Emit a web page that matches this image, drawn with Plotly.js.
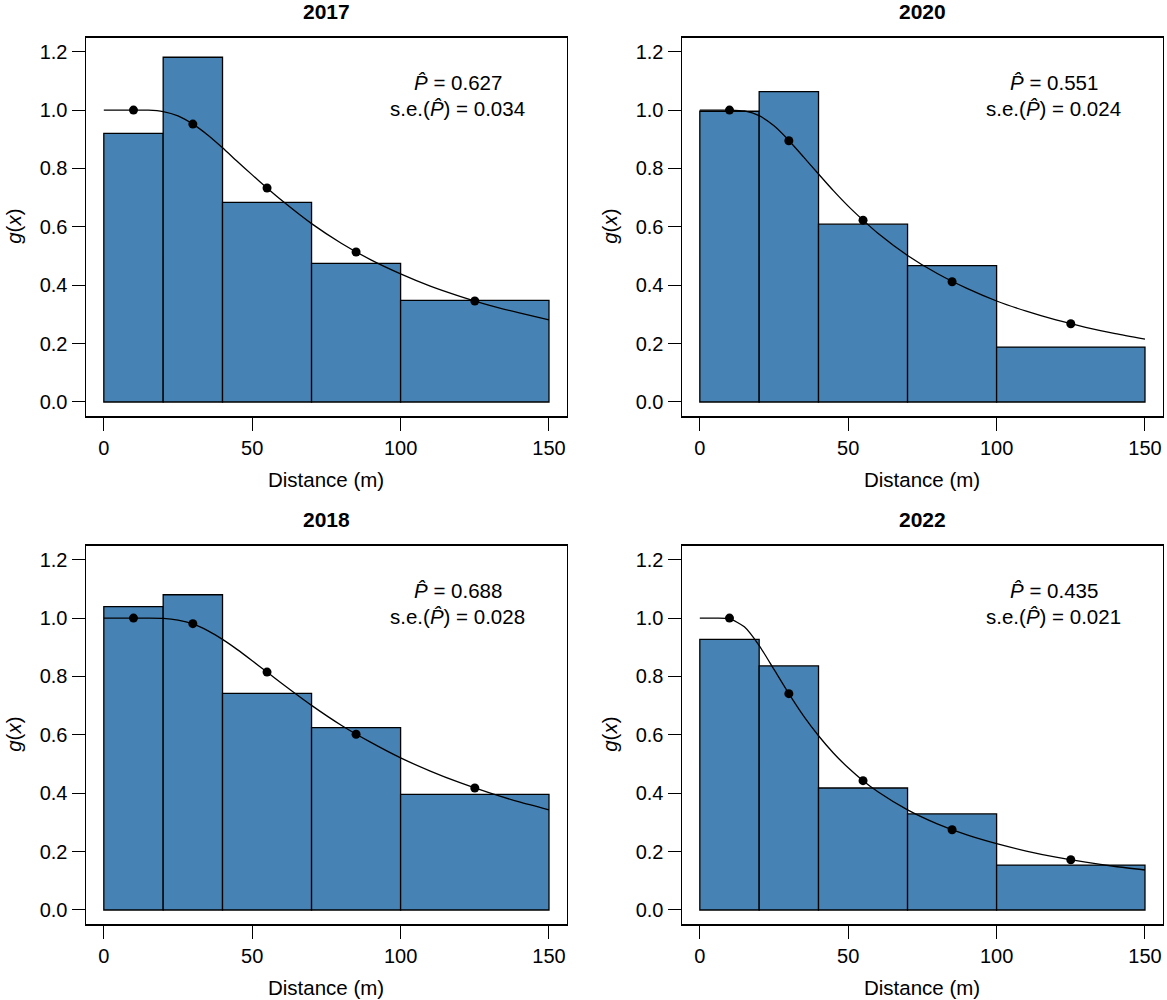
<!DOCTYPE html>
<html><head><meta charset="utf-8">
<script src="https://cdn.plot.ly/plotly-3.0.1.min.js"></script>
<style>html,body{margin:0;padding:0;background:#fff}</style>
</head><body><div id="chart" style="width:1167px;height:1000px"></div>
<script>
// ---------- data ----------
const years = ["2017", "2020", "2018", "2022"];
const binEdges = [0, 20, 40, 70, 100, 150];

const bars2017 = [0.920, 1.181, 0.684, 0.475, 0.348];
const bars2020 = [0.996, 1.063, 0.609, 0.467, 0.188];
const bars2018 = [1.039, 1.080, 0.742, 0.625, 0.396];
const bars2022 = [0.927, 0.836, 0.418, 0.329, 0.154];

const points2017 = [1.000, 0.952, 0.733, 0.514, 0.346];
const points2020 = [1.000, 0.895, 0.623, 0.412, 0.268];
const points2018 = [1.000, 0.981, 0.815, 0.602, 0.418];
const points2022 = [1.000, 0.741, 0.443, 0.275, 0.172];

const curveX = [0, 5, 10, 15, 20, 25, 30, 35, 40, 45, 50, 55, 60, 70, 80, 90, 100, 110, 120, 130, 140, 150];
const curve2017 = [1, 1, 1, 1.000, 0.995, 0.980, 0.952, 0.915, 0.871, 0.824, 0.778, 0.733, 0.690, 0.611, 0.544, 0.487, 0.439, 0.397, 0.362, 0.331, 0.305, 0.281];
const curve2020 = [1, 1, 1, 0.997, 0.981, 0.946, 0.896, 0.839, 0.781, 0.724, 0.671, 0.623, 0.578, 0.502, 0.440, 0.389, 0.346, 0.311, 0.281, 0.256, 0.234, 0.215];
const curve2018 = [1, 1, 1, 1, 0.999, 0.993, 0.980, 0.957, 0.927, 0.892, 0.854, 0.815, 0.776, 0.701, 0.633, 0.574, 0.521, 0.476, 0.436, 0.401, 0.370, 0.343];
const curve2022 = [1, 1, 0.998, 0.970, 0.906, 0.824, 0.741, 0.664, 0.597, 0.538, 0.487, 0.443, 0.405, 0.343, 0.295, 0.257, 0.227, 0.202, 0.181, 0.164, 0.149, 0.137];

const pHat = ["0.627", "0.551", "0.688", "0.435"];
const seP  = ["0.034", "0.024", "0.028", "0.021"];

const xTicks = [0, 50, 100, 150];
const yTicks = [0, 0.2, 0.4, 0.6, 0.8, 1.0, 1.2];

const barsAll = [bars2017, bars2020, bars2018, bars2022];
const pointsAll = [points2017, points2020, points2018, points2022];
const curvesAll = [curve2017, curve2020, curve2018, curve2022];

// ---------- geometry ----------
const W = 1167, H = 1000;
const FONT = "Liberation Sans, Arial, sans-serif";
const cols = [[86, 566.8], [682, 1162.8]];
const rows = [[37.7, 416], [545.7, 924]];
const panelPos = [[0, 0], [1, 0], [0, 1], [1, 1]]; // [col,row]

const mids = binEdges.slice(0, -1).map((e, i) => (e + binEdges[i + 1]) / 2);
const widths = binEdges.slice(0, -1).map((e, i) => binEdges[i + 1] - e);

const traces = [];
const layout = {
  width: W, height: H,
  margin: {l: 0, r: 0, t: 0, b: 0},
  paper_bgcolor: "#ffffff", plot_bgcolor: "#ffffff",
  showlegend: false,
  font: {family: FONT, size: 20, color: "#000"},
  annotations: []
};

years.forEach((yr, i) => {
  const [c, r] = panelPos[i];
  const n = i === 0 ? "" : String(i + 1);
  const xa = "x" + n, ya = "y" + n;
  traces.push({
    type: "bar", x: mids, y: barsAll[i], width: widths,
    xaxis: xa, yaxis: ya,
    marker: {color: "#4682B4", line: {color: "#000", width: 1.3}},
    hoverinfo: "skip"
  });
  traces.push({
    type: "scatter", mode: "lines", x: curveX, y: curvesAll[i],
    xaxis: xa, yaxis: ya,
    line: {color: "#000", width: 1.3, shape: "spline", smoothing: 0.6},
    hoverinfo: "skip"
  });
  traces.push({
    type: "scatter", mode: "markers", x: mids, y: pointsAll[i],
    xaxis: xa, yaxis: ya,
    marker: {color: "#000", size: 9},
    hoverinfo: "skip"
  });
  const axCommon = {
    showline: true, mirror: true, linecolor: "#000", linewidth: 1.5,
    ticks: "outside", ticklen: 13, tickwidth: 1, tickcolor: "#000",
    showgrid: false, zeroline: false, fixedrange: true,
    tickfont: {family: FONT, size: 20, color: "#000"}
  };
  layout["xaxis" + n] = Object.assign({}, axCommon, {
    domain: [cols[c][0] / W, cols[c][1] / W],
    range: [-6, 156], tickmode: "array", tickvals: xTicks,
    ticktext: xTicks.map(String), anchor: ya
  });
  layout["yaxis" + n] = Object.assign({}, axCommon, {
    domain: [1 - rows[r][1] / H, 1 - rows[r][0] / H],
    range: [-0.048, 1.248], tickmode: "array", tickvals: yTicks,
    ticktext: yTicks.map(v => v.toFixed(1)), anchor: xa
  });
  const cx = (cols[c][0] + cols[c][1]) / 2;
  // title
  layout.annotations.push({
    xref: "paper", yref: "paper", x: cx / W, y: 1 - (rows[r][0] - 26) / H,
    xanchor: "center", yanchor: "middle", showarrow: false,
    text: "<b>" + yr + "</b>", font: {family: FONT, size: 21, color: "#000"}
  });
  // x axis title
  layout.annotations.push({
    xref: "paper", yref: "paper", x: cx / W, y: 1 - (rows[r][1] + 63) / H,
    xanchor: "center", yanchor: "middle", showarrow: false,
    text: "Distance (m)", font: {family: FONT, size: 20.5, color: "#000"}
  });
  // y axis title
  layout.annotations.push({
    xref: "paper", yref: "paper", x: (cols[c][0] - 72) / W,
    y: 1 - ((rows[r][0] + rows[r][1]) / 2) / H,
    xanchor: "center", yanchor: "middle", showarrow: false, textangle: -90,
    text: "<i>g</i>(<i>x</i>)", font: {family: FONT, size: 20.5, color: "#000"}
  });
  // estimates
  layout.annotations.push({
    xref: xa, yref: ya, x: 119.3, y: 1.096,
    xanchor: "center", yanchor: "middle", showarrow: false,
    text: "<i>P\u0302</i> = " + pHat[i], font: {family: FONT, size: 20.5, color: "#000"}
  });
  layout.annotations.push({
    xref: xa, yref: ya, x: 119.3, y: 1.006,
    xanchor: "center", yanchor: "middle", showarrow: false,
    text: "s.e.(<i>P\u0302</i>) = " + seP[i], font: {family: FONT, size: 20.5, color: "#000"}
  });
});

Plotly.newPlot("chart", traces, layout, {staticPlot: true, displayModeBar: false});
</script>
</body></html>
